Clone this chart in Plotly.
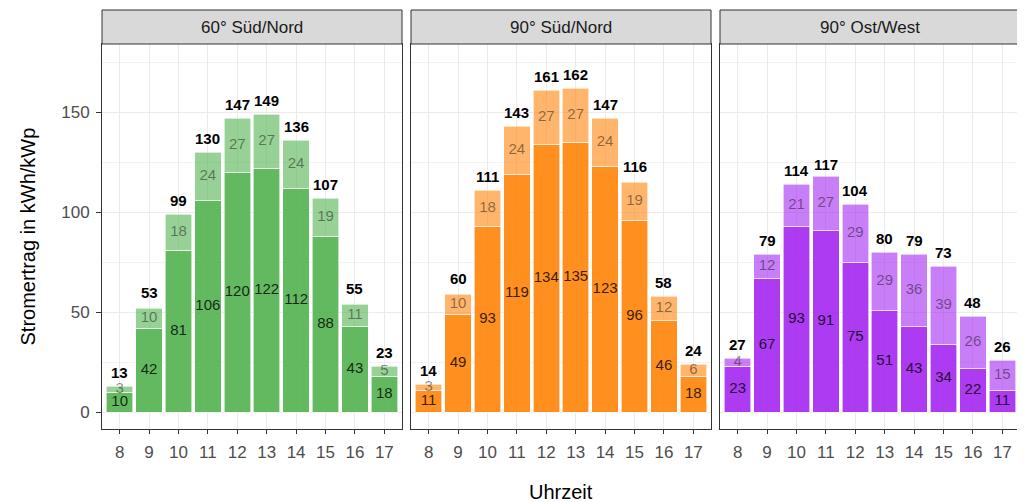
import plotly.graph_objects as go
from plotly.subplots import make_subplots

hours = [8, 9, 10, 11, 12, 13, 14, 15, 16, 17]
panels = ["60° Süd/Nord", "90° Süd/Nord", "90° Ost/West"]

lower_60sn = [10, 42, 81, 106, 120, 122, 112, 88, 43, 18]
upper_60sn = [3, 10, 18, 24, 27, 27, 24, 19, 11, 5]
total_60sn = [13, 53, 99, 130, 147, 149, 136, 107, 55, 23]

lower_90sn = [11, 49, 93, 119, 134, 135, 123, 96, 46, 18]
upper_90sn = [3, 10, 18, 24, 27, 27, 24, 19, 12, 6]
total_90sn = [14, 60, 111, 143, 161, 162, 147, 116, 58, 24]

lower_90ow = [23, 67, 93, 91, 75, 51, 43, 34, 22, 11]
upper_90ow = [4, 12, 21, 27, 29, 29, 36, 39, 26, 15]
total_90ow = [27, 79, 114, 117, 104, 80, 79, 73, 48, 26]

y_ticks = [0, 50, 100, 150]

lowers = [lower_60sn, lower_90sn, lower_90ow]
uppers = [upper_60sn, upper_90sn, upper_90ow]
totals = [total_60sn, total_90sn, total_90ow]
base_rgb = [(77, 175, 74), (255, 127, 0), (160, 32, 240)]

FONT = "Liberation Sans, Arial, sans-serif"
# the page body has an 8px margin; the figure is sized so the drawing lands at the reference's pixels
W, H = 1017, 494
ml, mr, mt, mb = 94, 5, 2, 73
pw = W - ml - mr
ph = H - mt - mb
panel_w = 300
gap = 9
strip_h = 34
panel_top = (ph - strip_h) / ph

fig = make_subplots(rows=1, cols=3, shared_yaxes=False)

for i in range(3):
    r, g, b = base_rgb[i]
    col = i + 1
    lo, up, tot = lowers[i], uppers[i], totals[i]
    xref = "x" if i == 0 else f"x{col}"
    yref = "y" if i == 0 else f"y{col}"
    fig.add_trace(go.Bar(x=hours, y=lo, width=0.9,
                         marker=dict(color=f"rgba({r},{g},{b},0.88)", line=dict(color="white", width=0.6)),
                         hoverinfo="skip", showlegend=False), row=1, col=col)
    fig.add_trace(go.Bar(x=hours, y=up, width=0.9,
                         marker=dict(color=f"rgba({r},{g},{b},0.58)", line=dict(color="white", width=0.6)),
                         hoverinfo="skip", showlegend=False), row=1, col=col)
    # lower labels
    fig.add_trace(go.Scatter(x=hours, y=[v / 2 for v in lo], mode="text",
                             text=[str(v) for v in lo], textposition="middle center",
                             textfont=dict(family=FONT, size=15, color="rgba(0,0,0,0.8)"),
                             hoverinfo="skip", showlegend=False, cliponaxis=False), row=1, col=col)
    # upper labels
    fig.add_trace(go.Scatter(x=hours, y=[a + u / 2 for a, u in zip(lo, up)], mode="text",
                             text=[str(v) for v in up], textposition="middle center",
                             textfont=dict(family=FONT, size=15, color="rgba(0,0,0,0.45)"),
                             hoverinfo="skip", showlegend=False, cliponaxis=False), row=1, col=col)
    # totals
    for h, t in zip(hours, tot):
        fig.add_annotation(x=h, y=t, xref=xref, yref=yref, text=f"<b>{t}</b>", showarrow=False,
                           xanchor="center", yanchor="bottom", yshift=3,
                           font=dict(family=FONT, size=15, color="black"))

fig.update_layout(barmode="stack", bargap=0.1)

for i in range(3):
    x0 = i * (panel_w + gap) / pw
    x1 = min((i * (panel_w + gap) + panel_w) / pw, 1)
    xa = "xaxis" if i == 0 else f"xaxis{i+1}"
    ya = "yaxis" if i == 0 else f"yaxis{i+1}"
    fig.layout[xa].update(domain=[x0, x1], range=[7.4, 17.6], tickvals=hours,
                          ticktext=[str(h) for h in hours],
                          showgrid=True, gridcolor="#EBEBEB", gridwidth=1,
                          zeroline=False, showline=True, mirror=True, linecolor="#333333", linewidth=1,
                          ticks="outside", ticklen=4, tickcolor="#333333", tickwidth=1,
                          tickfont=dict(family=FONT, size=17, color="#4D4D4D"), ticklabelstandoff=4)
    fig.layout[ya].update(domain=[0, panel_top], range=[-8.5, 184], tickvals=y_ticks,
                          showgrid=True, gridcolor="#EBEBEB", gridwidth=1,
                          minor=dict(dtick=25, tick0=0, showgrid=True, gridcolor="#F2F2F2", gridwidth=0.6),
                          zeroline=False, showline=True, mirror=True, linecolor="#333333", linewidth=1,
                          ticks="outside" if i == 0 else "", ticklen=5, tickcolor="#333333",
                          showticklabels=(i == 0),
                          tickfont=dict(family=FONT, size=17, color="#4D4D4D"), ticklabelstandoff=3)
    # strip
    fig.add_shape(type="rect", xref="paper", yref="paper", x0=x0, x1=x1, y0=panel_top, y1=1,
                  fillcolor="#D9D9D9", line=dict(color="#333333", width=1), layer="above")
    fig.add_annotation(xref="paper", yref="paper", x=(x0 + x1) / 2, y=(panel_top + 1) / 2,
                       text=panels[i], showarrow=False, xanchor="center", yanchor="middle",
                       font=dict(family=FONT, size=17, color="#1A1A1A"))

fig.add_annotation(xref="paper", yref="paper", x=0.5, y=0, yshift=-63, text="Uhrzeit", showarrow=False,
                   xanchor="center", yanchor="middle", font=dict(family=FONT, size=20, color="black"))
fig.add_annotation(xref="paper", yref="paper", x=0, xshift=-75, y=panel_top / 2, text="Stromertrag in kWh/kWp",
                   showarrow=False, textangle=-90, xanchor="center", yanchor="middle",
                   font=dict(family=FONT, size=20, color="black"))

fig.update_layout(width=W, height=H, margin=dict(l=ml, r=mr, t=mt, b=mb),
                  plot_bgcolor="white", paper_bgcolor="white", font=dict(family=FONT))

fig.write_html("out.html")
